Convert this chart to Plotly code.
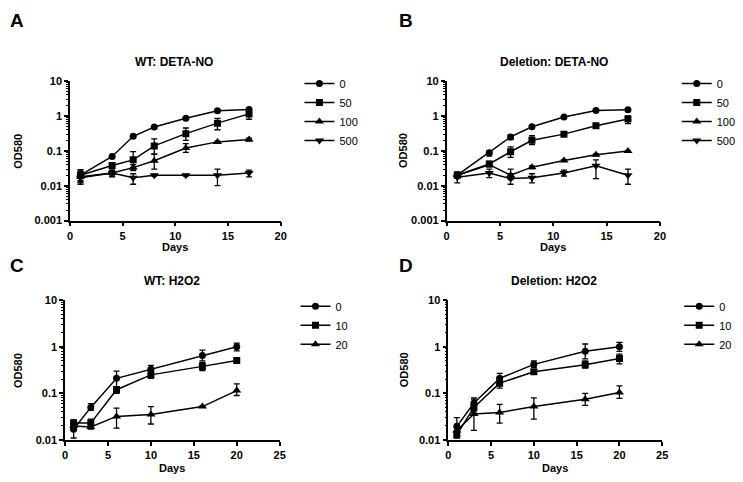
import plotly.graph_objects as go

W, H = 743, 482
OFF = 8  # default page body margin of the written html

# ---------------- data ----------------
days_no = [1, 4, 6, 8, 11, 14, 17]
days_h2o2 = [1, 3, 6, 10, 16, 20]
doses_no = ["0", "50", "100", "500"]
doses_h2o2 = ["0", "10", "20"]

# A: WT, DETA-NO
wt_no_0 = [0.020, 0.069, 0.26, 0.48, 0.86, 1.40, 1.53]
wt_no_0_hi = [0.029, 0.075, 0.29, 0.51, 0.92, 1.48, 1.65]
wt_no_0_lo = [0.012, 0.063, 0.23, 0.45, 0.80, 1.32, 1.40]
wt_no_50 = [0.020, 0.038, 0.055, 0.138, 0.31, 0.62, 1.14]
wt_no_50_hi = [0.028, 0.045, 0.095, 0.22, 0.45, 0.85, 1.50]
wt_no_50_lo = [0.014, 0.031, 0.030, 0.080, 0.20, 0.40, 0.80]
wt_no_100 = [0.018, 0.023, 0.033, 0.052, 0.12, 0.18, 0.21]
wt_no_100_hi = [0.025, 0.027, 0.040, 0.080, 0.16, 0.19, 0.23]
wt_no_100_lo = [0.013, 0.019, 0.027, 0.030, 0.09, 0.17, 0.19]
wt_no_500 = [0.017, 0.023, 0.017, 0.020, 0.020, 0.020, 0.023]
wt_no_500_hi = [0.025, 0.028, 0.022, 0.021, 0.021, 0.030, 0.028]
wt_no_500_lo = [0.011, 0.018, 0.011, 0.019, 0.019, 0.010, 0.018]

# B: Deletion, DETA-NO
del_no_0 = [0.020, 0.088, 0.25, 0.49, 0.93, 1.43, 1.50]
del_no_0_hi = [0.022, 0.100, 0.28, 0.52, 0.97, 1.50, 1.60]
del_no_0_lo = [0.018, 0.070, 0.21, 0.46, 0.89, 1.36, 1.40]
del_no_50 = [0.020, 0.042, 0.094, 0.20, 0.30, 0.52, 0.81]
del_no_50_hi = [0.022, 0.050, 0.130, 0.27, 0.32, 0.55, 1.00]
del_no_50_lo = [0.018, 0.035, 0.065, 0.15, 0.28, 0.49, 0.60]
del_no_100 = [0.020, 0.040, 0.020, 0.034, 0.053, 0.077, 0.098]
del_no_100_hi = [0.022, 0.045, 0.030, 0.037, 0.056, 0.081, 0.100]
del_no_100_lo = [0.018, 0.035, 0.015, 0.031, 0.050, 0.073, 0.095]
del_no_500 = [0.0175, 0.023, 0.016, 0.017, 0.023, 0.037, 0.020]
del_no_500_hi = [0.025, 0.030, 0.022, 0.022, 0.028, 0.055, 0.030]
del_no_500_lo = [0.012, 0.017, 0.011, 0.012, 0.019, 0.016, 0.011]

# C: WT, H2O2
wt_h_0 = [0.017, 0.050, 0.21, 0.33, 0.65, 1.00]
wt_h_0_hi = [0.023, 0.060, 0.30, 0.40, 0.85, 1.20]
wt_h_0_lo = [0.011, 0.043, 0.14, 0.28, 0.50, 0.82]
wt_h_10 = [0.023, 0.023, 0.12, 0.25, 0.38, 0.51]
wt_h_10_hi = [0.027, 0.028, 0.14, 0.30, 0.46, 0.54]
wt_h_10_lo = [0.020, 0.019, 0.10, 0.21, 0.31, 0.48]
wt_h_20 = [0.020, 0.019, 0.032, 0.035, 0.052, 0.115]
wt_h_20_hi = [0.022, 0.022, 0.048, 0.052, 0.054, 0.160]
wt_h_20_lo = [0.018, 0.017, 0.018, 0.022, 0.050, 0.090]

# D: Deletion, H2O2
del_h_0 = [0.0196, 0.062, 0.21, 0.42, 0.80, 1.00]
del_h_0_hi = [0.030, 0.080, 0.27, 0.50, 1.15, 1.25]
del_h_0_lo = [0.013, 0.050, 0.17, 0.36, 0.55, 0.80]
del_h_10 = [0.013, 0.050, 0.166, 0.29, 0.41, 0.56]
del_h_10_hi = [0.016, 0.065, 0.21, 0.32, 0.50, 0.70]
del_h_10_lo = [0.011, 0.040, 0.13, 0.26, 0.35, 0.43]
del_h_20 = [0.016, 0.036, 0.039, 0.052, 0.075, 0.105]
del_h_20_hi = [0.018, 0.075, 0.058, 0.080, 0.100, 0.145]
del_h_20_lo = [0.014, 0.016, 0.023, 0.028, 0.055, 0.078]

titles = ["WT: DETA-NO", "Deletion: DETA-NO", "WT: H2O2", "Deletion: H2O2"]
letters = ["A", "B", "C", "D"]
y_ticks_no = [0.001, 0.01, 0.1, 1, 10]
y_ticks_h2o2 = [0.01, 0.1, 1, 10]
y_ticktext = {0.001: "0.001", 0.01: "0.01", 0.1: "0.1", 1: "1", 10: "10"}
x_ticks_no = [0, 5, 10, 15, 20]
x_ticks_h2o2 = [0, 5, 10, 15, 20, 25]

# ---------------- helpers ----------------
FW, FH = W - OFF, H - OFF


def fx(px):
    return (px - OFF) / FW


def fy(py):
    return 1 - (py - OFF) / FH


symbols = ["circle", "square", "triangle-up", "triangle-down"]
sizes = [7, 7, 8, 8]

panels = [
    dict(days=days_no, doses=doses_no,
         series=[(wt_no_0, wt_no_0_hi, wt_no_0_lo), (wt_no_50, wt_no_50_hi, wt_no_50_lo),
                 (wt_no_100, wt_no_100_hi, wt_no_100_lo), (wt_no_500, wt_no_500_hi, wt_no_500_lo)],
         xdom=(67.7, 281), ydom=(76.7, 220), xr=20, yr=(-3, 1), yt=y_ticks_no, xt=x_ticks_no,
         leg=(300, 64.5), title=(173, 57), letter=(14, 15), ylab=15, xlab=247),
    dict(days=days_no, doses=doses_no,
         series=[(del_no_0, del_no_0_hi, del_no_0_lo), (del_no_50, del_no_50_hi, del_no_50_lo),
                 (del_no_100, del_no_100_hi, del_no_100_lo), (del_no_500, del_no_500_hi, del_no_500_lo)],
         xdom=(449, 665), ydom=(76.7, 220), xr=20, yr=(-3, 1), yt=y_ticks_no, xt=x_ticks_no,
         leg=(682, 64.5), title=(558, 57), letter=(408, 15), ylab=405, xlab=247),
    dict(days=days_h2o2, doses=doses_h2o2,
         series=[(wt_h_0, wt_h_0_hi, wt_h_0_lo), (wt_h_10, wt_h_10_hi, wt_h_10_lo),
                 (wt_h_20, wt_h_20_hi, wt_h_20_lo)],
         xdom=(62.7, 280), ydom=(301.7, 445), xr=25, yr=(-2, 1), yt=y_ticks_h2o2, xt=x_ticks_h2o2,
         leg=(296, 293), title=(171, 282), letter=(14, 266), ylab=15, xlab=473.5),
    dict(days=days_h2o2, doses=doses_h2o2,
         series=[(del_h_0, del_h_0_hi, del_h_0_lo), (del_h_10, del_h_10_hi, del_h_10_lo),
                 (del_h_20, del_h_20_hi, del_h_20_lo)],
         xdom=(450.7, 667.3), ydom=(301.7, 445), xr=25, yr=(-2, 1), yt=y_ticks_h2o2, xt=x_ticks_h2o2,
         leg=(684.5, 293), title=(558, 282), letter=(408, 266), ylab=406, xlab=473.5),
]

FONT = "Liberation Sans"
tickfont = dict(family=FONT, size=11, color="#000000", weight="bold")

fig = go.Figure()
layout = dict(width=FW, height=FH, margin=dict(l=0, r=0, t=0, b=0, pad=0),
              paper_bgcolor="white", plot_bgcolor="white", showlegend=True,
              annotations=[])

for i, p in enumerate(panels):
    n = i + 1
    xa = "x" if n == 1 else f"x{n}"
    ya = "y" if n == 1 else f"y{n}"
    legname = "legend" if n == 1 else f"legend{n}"
    for j, (vals, hi, lo) in enumerate(p["series"]):
        fig.add_trace(go.Scatter(
            x=p["days"], y=vals, name=p["doses"][j], mode="lines+markers",
            xaxis=xa, yaxis=ya, legend=legname,
            line=dict(color="black", width=1.5),
            marker=dict(symbol=symbols[j], size=sizes[j], color="black"),
            error_y=dict(type="data", symmetric=False,
                         array=[h - v for h, v in zip(hi, vals)],
                         arrayminus=[v - l for v, l in zip(vals, lo)],
                         color="black", thickness=1.3, width=3),
        ))
    minor_vals = [k * 10 ** d for d in range(p["yr"][0], p["yr"][1]) for k in range(2, 10)]
    xkey = "xaxis" if n == 1 else f"xaxis{n}"
    ykey = "yaxis" if n == 1 else f"yaxis{n}"
    layout[xkey] = dict(domain=[fx(p["xdom"][0]), fx(p["xdom"][1])], anchor=ya,
                        range=[0, p["xr"]], tickvals=p["xt"], showline=True,
                        linecolor="black", linewidth=1.5, ticks="outside", ticklen=4,
                        tickwidth=1.5, tickcolor="black", showgrid=False, zeroline=False,
                        tickfont=tickfont)
    layout[ykey] = dict(domain=[fy(p["ydom"][1]), fy(p["ydom"][0])], anchor=xa,
                        type="log", range=list(p["yr"]), tickvals=p["yt"],
                        ticktext=[y_ticktext[t] for t in p["yt"]], showline=True,
                        linecolor="black", linewidth=1.5, ticks="outside", ticklen=4,
                        tickwidth=1.5, tickcolor="black", showgrid=False, zeroline=False,
                        tickfont=tickfont,
                        minor=dict(tickvals=minor_vals, ticks="outside", ticklen=2,
                                   tickwidth=1, tickcolor="black", showgrid=False))
    layout[legname] = dict(x=fx(p["leg"][0]), y=fy(p["leg"][1]), xanchor="left",
                           yanchor="top", bgcolor="rgba(0,0,0,0)",
                           font=dict(family=FONT, size=11, color="#000000"))
    layout["annotations"] += [
        dict(text=titles[i], x=fx(p["title"][0]), y=fy(p["title"][1]), xref="paper",
             yref="paper", showarrow=False, xanchor="center", yanchor="middle",
             font=dict(family=FONT, size=12, color="#000000", weight="bold")),
        dict(text=letters[i], x=fx(p["letter"][0]), y=fy(p["letter"][1]), xref="paper",
             yref="paper", showarrow=False, xanchor="center", yanchor="middle",
             font=dict(family=FONT, size=19, color="#000000", weight="bold")),
        dict(text="OD580", x=fx(p["ylab"]), y=fy((p["ydom"][0] + p["ydom"][1]) / 2),
             xref="paper", yref="paper", showarrow=False, textangle=-90,
             xanchor="center", yanchor="middle",
             font=dict(family=FONT, size=11, color="#000000", weight="bold")),
        dict(text="Days", x=fx((p["xdom"][0] + p["xdom"][1]) / 2), y=fy(p["xlab"]),
             xref="paper", yref="paper", showarrow=False, xanchor="center",
             yanchor="middle",
             font=dict(family=FONT, size=11, color="#000000", weight="bold")),
    ]

fig.update_layout(**layout)
fig.write_html("out.html")
